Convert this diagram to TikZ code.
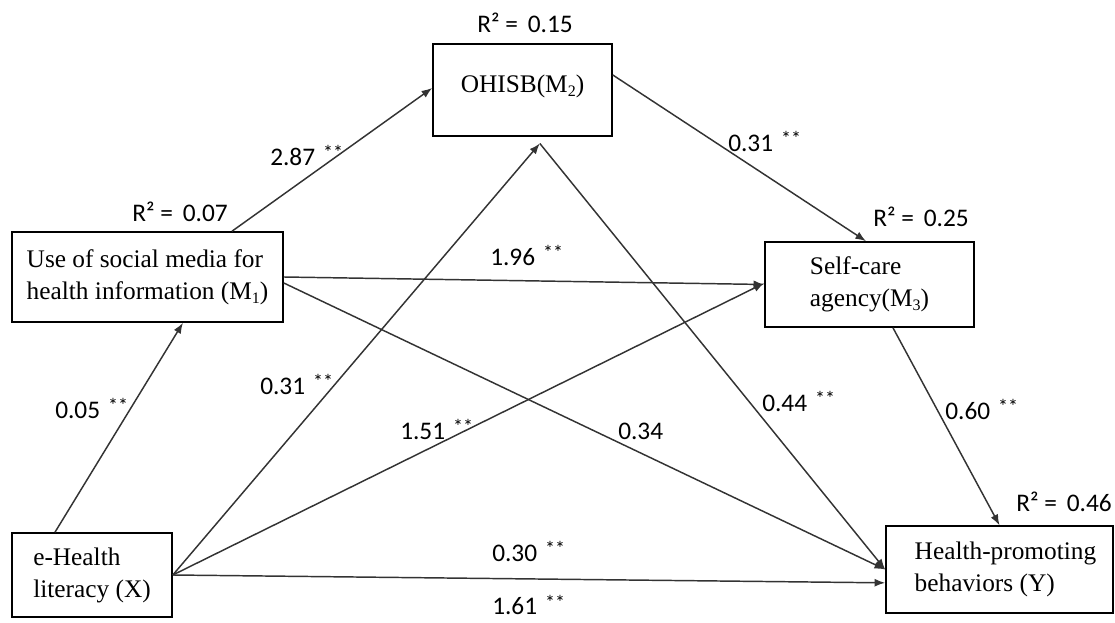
\documentclass[tikz,border=0pt]{standalone}
\usepackage{fontspec}
\setmainfont{Liberation Serif}
\newfontfamily\lblfont{Carlito}
\usetikzlibrary{arrows.meta}

\newcommand{\sig}{\hspace{6pt}\raisebox{4.5pt}{\fontsize{15}{15}\selectfont **}}
\newcommand{\sbs}[1]{\raisebox{-3pt}{\fontsize{12}{12}\selectfont #1}}

\begin{document}
\begin{tikzpicture}[
        x=0.75pt, y=-0.75pt,
        box/.style={draw, line width=1.2pt, align=left, inner sep=0pt,
            font=\fontsize{19}{24}\selectfont},
        effect/.style={-{Latex[length=8pt,width=6pt]}, line width=1.1pt, black!80},
        coef/.style={anchor=base west, inner sep=0pt,
            font=\lblfont\fontsize{19}{22}\selectfont}
    ]
        \useasboundingbox (0,0) rectangle (1115,623);

        % Cajas
        \node[box, minimum width=203.25pt, minimum height=67.5pt] (m1) at (147.5,277)
            {Use of social media for\\health information (M\sbs{1})};
        \node[box, minimum width=134.25pt, minimum height=69pt] (m2) at (522.5,90)
            {\raisebox{10pt}{OHISB(M\sbs{2})}};
        \node[box, minimum width=156.75pt, minimum height=63.75pt] (m3) at (869.5,284.5)
            {Self-care\\agency(M\sbs{3})};
        \node[box, minimum width=170.25pt, minimum height=65.25pt] (y) at (999.5,569.5)
            {\hspace*{9pt}Health-promoting\\\hspace*{9pt}behaviors (Y)};
        \node[box, minimum width=120pt, minimum height=63pt] (x) at (92,575)
            {e-Health\\literacy (X)};

        \coordinate (m2in) at ([xshift=13pt,yshift=-5pt]m2.south);

        % Flechas
        \draw[effect] ([xshift=-27.75pt]x.north) -- ([xshift=26.6pt]m1.south);
        \draw[effect] ([xshift=63.4pt]m1.north) -- ([yshift=1.5pt]m2.west);
        \draw[effect] ([yshift=11.25pt]m2.east) -- ([xshift=-2.6pt]m3.north);
        \draw[effect] ([xshift=17.6pt]m3.south) -- (y.north);
        \draw[effect] (m1.east) -- (m3.west);
        \draw[effect] ([yshift=-4.5pt]m1.east) -- (y.west);
        \draw[effect] (x.east) -- (m2in);
        \draw[effect] (m2in) -- (y.west);
        \draw[effect] (x.east) -- ([yshift=1pt]m3.west);
        \draw[effect] (x.east) -- ([yshift=-10pt]y.west);

        % R cuadrado
        \node[coef] (r1) at (132,222) {R² = \,0.07};
        \node[coef] (r2) at (477,33) {R² = \,0.15};
        \node[coef] (r3) at (873,227) {R² = \,0.25};
        \node[coef] (r4) at (1016,512) {R² = \,0.46};

        % Coeficientes
        \node[coef] (c1) at (270,166) {2.87\sig};
        \node[coef] (c2) at (728,152) {0.31\sig};
        \node[coef] (c3) at (490,266) {1.96\sig};
        \node[coef] (c4) at (55,419) {0.05\sig};
        \node[coef] (c5) at (260,395) {0.31\sig};
        \node[coef] (c6) at (400,440) {1.51\sig};
        \node[coef] (c7) at (618,440) {0.34};
        \node[coef] (c8) at (762,412) {0.44\sig};
        \node[coef] (c9) at (945,420) {0.60\sig};
        \node[coef] (c10) at (492,562) {0.30\sig};
        \node[coef] (c11) at (492,615) {1.61\sig};

    \end{tikzpicture}
\end{document}
